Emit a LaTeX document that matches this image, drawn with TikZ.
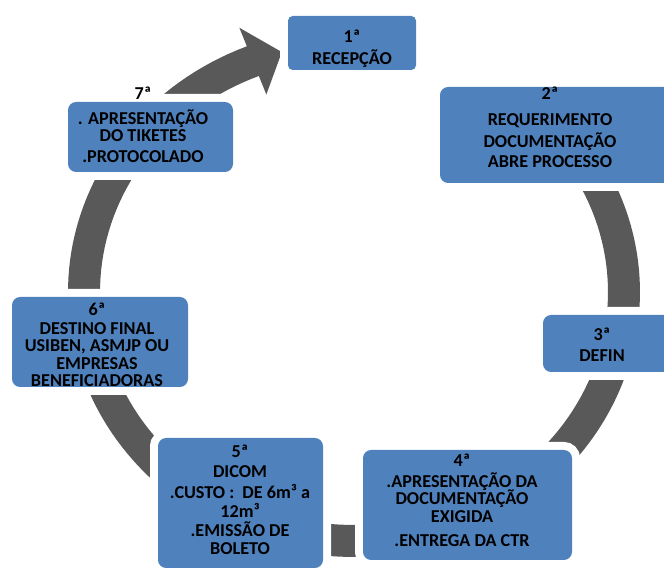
\documentclass[tikz,border=0pt]{standalone}
\usepackage{fontspec}
\setmainfont{Carlito}
\definecolor{stageblue}{HTML}{4F81BD}
\definecolor{ringgray}{HTML}{595959}
\lineskiplimit=-30pt
\tikzset{
  stagebox/.style={fill=stageblue, rounded corners=7pt, inner sep=0pt,
    preaction={draw=white, line width=0.48cm, rounded corners=7pt}},
  stagetext/.style={anchor=base, align=center, inner sep=0pt, text=black,
    font=\bfseries\fontsize{15.5}{13.6}\selectfont}
}
\begin{document}
\begin{tikzpicture}[x=0.03cm,y=-0.03cm]
	\useasboundingbox (0,0) rectangle (664,570);
	\clip (0,0) rectangle (664,570);
	% ring with arrow head, clockwise
	\fill[ringgray] plot[domain=-44:248,samples=150] ({354+286*cos(\x)},{292+265*sin(\x)})
	-- ({354+306*cos(248)},{292+285*sin(248)})
	-- ({354+270*cos(254.5)},{292+249*sin(254.5)})
	-- ({354+234*cos(248)},{292+213*sin(248)})
	-- plot[domain=248:-44,samples=150] ({354+254*cos(\x)},{292+233*sin(\x)}) -- cycle;
	% stages
	\node[stagebox, minimum width=128*0.03cm, minimum height=54*0.03cm, rounded corners=4pt] (b1) at (352,43) {};
	\node[stagebox, minimum width=232*0.03cm, minimum height=96*0.03cm] (b2) at (556,135) {};
	\node[stagebox, minimum width=129*0.03cm, minimum height=57*0.03cm] (b3) at (607.5,343.5) {};
	\node[stagebox, minimum width=209*0.03cm, minimum height=110*0.03cm] (b4) at (467.5,505) {};
	\node[stagebox, minimum width=165*0.03cm, minimum height=130*0.03cm] (b5) at (240.5,503) {};
	\node[stagebox, minimum width=176*0.03cm, minimum height=90*0.03cm] (b6) at (100,342) {};
	\node[stagebox, minimum width=165*0.03cm, minimum height=70*0.03cm] (b7) at (150.5,137) {};
	% texts (placed at the baseline of the last line)
	\node[stagetext] (t1) at (352,65) {1ª\\[6pt]RECEPÇÃO};
	\node[stagetext] (t2) at (550,168) {2ª\\[9pt]REQUERIMENTO\\[5pt]DOCUMENTAÇÃO\\[4pt]ABRE PROCESSO};
	\node[stagetext] (t3) at (602,362) {3ª\\[5pt]DEFIN};
	\node[stagetext] (t4) at (462,547) {4ª\\[4pt].APRESENTAÇÃO DA\\[1pt]DOCUMENTAÇÃO\\[2pt]EXIGIDA\\[7pt].ENTREGA DA CTR};
	\node[stagetext] (t5) at (240,555) {5ª\\[3pt]DICOM\\[5pt].CUSTO :~ DE 6m³ a\\[2pt]12m³\\[3pt].EMISSÃO DE\\[2pt]BOLETO};
	\node[stagetext] (t6) at (97,387) {6ª\\[3pt]DESTINO FINAL\\[1pt]USIBEN, ASMJP OU\\[2pt]EMPRESAS\\[1pt]BENEFICIADORAS};
	\node[stagetext] (t7) at (143,163) {7ª\\[7pt]. APRESENTAÇÃO\\[1pt]DO TIKETES\\[5pt].PROTOCOLADO};
\end{tikzpicture}
\end{document}
